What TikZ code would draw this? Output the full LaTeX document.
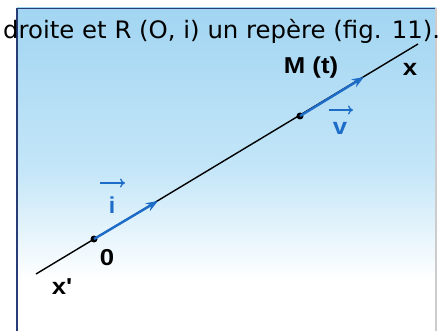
\documentclass[tikz,border=0pt]{standalone}
\usepackage{fontspec}
\setmainfont{DejaVu Sans}
\newfontfamily\lblfont{Liberation Sans}
\usetikzlibrary{arrows.meta}
\definecolor{bgblue}{RGB}{162,213,242}
\definecolor{midblue}{RGB}{196,230,248}
\definecolor{vecblue}{RGB}{28,108,200}
\definecolor{edgeblue}{RGB}{40,60,120}
\newcommand\fitbox[3]{\resizebox{#1}{#2}{#3}}
\newcommand\wide[1]{\scalebox{1.12}[1]{#1}}
\begin{document}
\begin{tikzpicture}[x=1pt,y=-1pt,
  lbl/.style={font=\lblfont\fontsize{23}{23}\selectfont\bfseries, inner sep=0pt},
  vec/.style={vecblue, line width=2.4pt, -{Stealth[length=12pt,width=9pt]}},
  smallvec/.style={vecblue, line width=1.3pt, -{To[length=5pt,width=9pt]}},
  ax/.style={black, line width=1.4pt},
  dot/.style={circle, fill=black, inner sep=0pt, minimum size=7pt}]
\useasboundingbox (0,0) rectangle (443,331);
\fill[white] (0,0) rectangle (443,331);
\shade[top color=bgblue, bottom color=midblue] (17,8) rectangle (436,170);
\shade[top color=midblue, bottom color=white] (17,170) rectangle (436,280);
\fill[white] (17,280) rectangle (436,331);
\draw[edgeblue, line width=0.6pt] (17,8) -- (436,8);
\draw[edgeblue, line width=1.5pt] (17,8) -- (17,331);
\draw[gray!40, line width=1.5pt] (436,8) -- (436,331);
% title
\node[anchor=base west, inner sep=0pt, font=\fontsize{24}{24}\selectfont] (title) at (3,39)
  {\fitbox{437pt}{\height}{droite et R (O, i) un rep\`ere (fig. 11).}};
% axis
\coordinate (xp) at (36,274);
\coordinate (xe) at (418,44);
\draw[ax] (xp) -- (xe);
\node[dot] (O) at (94,239) {};
\node[dot] (M) at (300,116) {};
\coordinate (it) at (158,201);
\coordinate (vt) at (364,77);
\draw[vec] (O.center) -- (it);
\draw[vec] (M.center) -- (vt);
% labels
\node[lbl] (Mt) at (311,68) {\wide{M (t)}};
\node[lbl] (xl) at (410,69) {\wide{x}};
\node[lbl] (zero) at (107,258) {\wide{0}};
\node[lbl] (xpl) at (62,287) {\wide{x\textquotesingle}};
\node[lbl, text=vecblue] (il) at (112,205) {i};
\coordinate (ia) at (100,183);
\coordinate (ib) at (125,183);
\draw[smallvec] (ia) -- (ib);
\node[lbl, text=vecblue] (vl) at (340,128) {\wide{v}};
\coordinate (va) at (329,110);
\coordinate (vb) at (353,110);
\draw[smallvec] (va) -- (vb);
\end{tikzpicture}
\end{document}
